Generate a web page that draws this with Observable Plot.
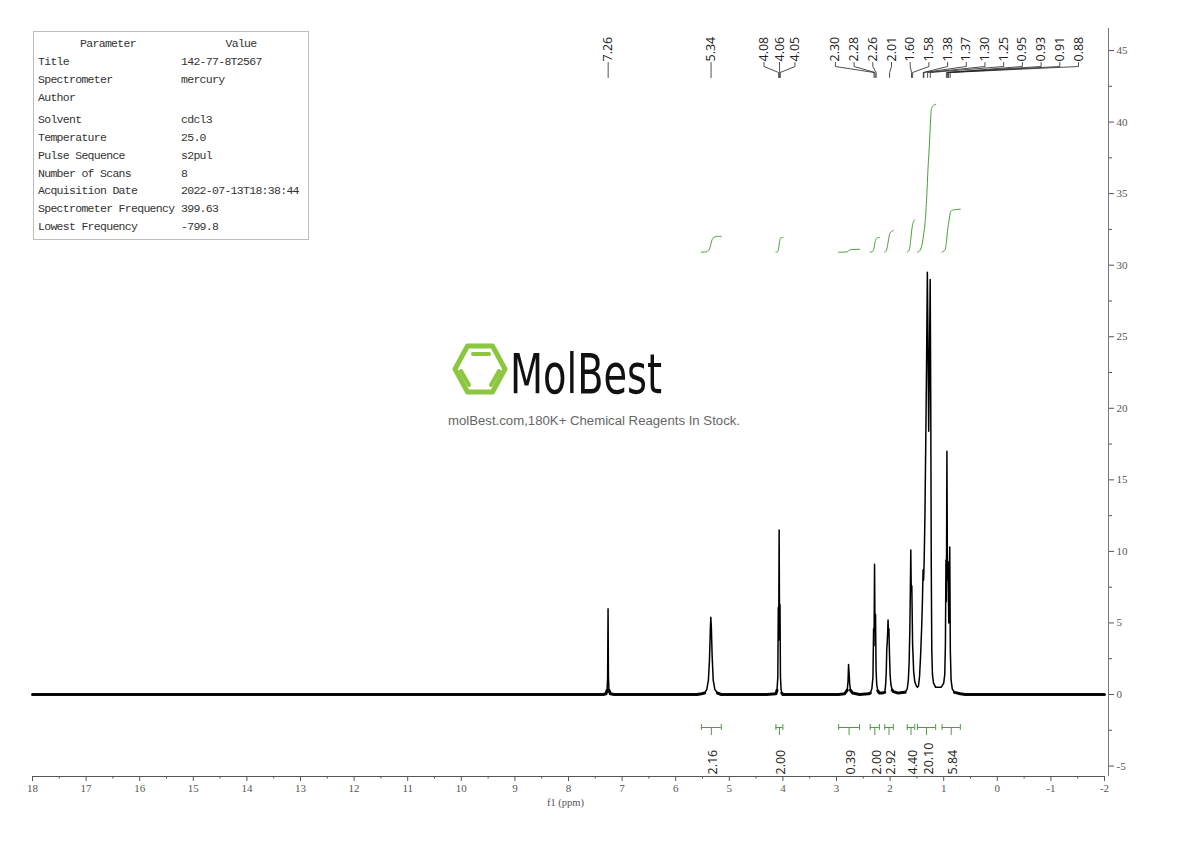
<!DOCTYPE html>
<html><head><meta charset="utf-8">
<script src="https://cdn.jsdelivr.net/npm/d3@7"></script>
<script src="https://cdn.jsdelivr.net/npm/@observablehq/plot@0.6"></script>
<style>
html,body{margin:0;padding:0;background:#fff;}
#wrap{position:relative;width:1190px;height:841px;overflow:hidden;background:#fff;}
#chart{position:absolute;left:0;top:0;}
#params{position:absolute;left:33px;top:31px;width:274px;height:207px;border:1px solid #bdbdbd;background:#fff;font-family:'Liberation Mono',monospace;font-size:11.5px;letter-spacing:-0.7px;color:#333;}
.cell{position:absolute;white-space:pre;line-height:14px;transform:translateY(-50%);}
#wm{position:absolute;left:0;top:0;pointer-events:none;}
</style></head>
<body><div id="wrap"><div id="chart"></div><div id="params"></div>
<svg id="wm" width="1190" height="841">
<g fill="none" stroke="#8cc63f" stroke-linecap="round" stroke-linejoin="round">
<path d="M455,369 L467.5,346 L492.5,346 L505,369 L492.5,392 L467.5,392 Z" stroke-width="5"/>
<path d="M473,354 H489" stroke-width="4"/>
<path d="M461,371 L469,385" stroke-width="4"/>
<path d="M499,371 L491,385" stroke-width="4"/>
</g>
<text x="510" y="393" font-family="'DejaVu Sans Condensed','DejaVu Sans',sans-serif" font-size="55" fill="#111" textLength="152" lengthAdjust="spacingAndGlyphs">MolBest</text>
<text x="594" y="424.5" text-anchor="middle" font-family="'Liberation Sans',Arial,sans-serif" font-size="12.5" fill="#666" textLength="292" lengthAdjust="spacingAndGlyphs">molBest.com,180K+ Chemical Reagents In Stock.</text>
</svg>
</div>
<script>
// ---------- data ----------
const spectrum = [
  [18.0,0.0],[7.35,0.0],[7.30,0.05],[7.28,0.3],[7.27,1.2],[7.262,6.0],[7.255,1.2],[7.245,0.3],[7.22,0.05],[7.15,0.0],
  [5.60,0.0],[5.52,0.05],[5.46,0.1],[5.42,0.35],[5.39,1.0],[5.37,2.4],[5.355,4.4],[5.345,5.4],[5.335,4.7],[5.32,2.7],[5.30,1.0],[5.27,0.35],[5.22,0.1],[5.15,0.0],
  [4.30,0.0],[4.13,0.05],[4.11,0.3],[4.095,1.2],[4.086,6.1],[4.079,3.8],[4.070,11.5],[4.062,4.0],[4.054,6.3],[4.046,1.3],[4.035,0.4],[4.02,0.1],[4.00,0.0],
  [3.20,0.0],[2.96,0.0],[2.85,0.05],[2.80,0.3],[2.785,0.9],[2.775,2.1],[2.765,1.5],[2.755,0.8],[2.74,0.3],[2.70,0.1],[2.57,0.0],
  [2.40,0.05],[2.37,0.1],[2.34,0.4],[2.32,1.2],[2.308,4.6],[2.300,3.4],[2.290,9.1],[2.282,4.4],[2.272,5.6],[2.262,1.8],[2.25,0.7],[2.23,0.25],[2.20,0.1],
  [2.15,0.1],[2.10,0.15],[2.085,0.6],[2.072,1.5],[2.062,3.2],[2.055,3.5],[2.047,4.2],[2.038,5.2],[2.030,4.2],[2.022,4.6],[2.012,2.9],[2.0,1.4],[1.985,0.7],[1.96,0.3],[1.94,0.2],
  [1.85,0.1],[1.72,0.15],[1.68,0.4],[1.66,1.0],[1.645,2.2],[1.632,4.5],[1.622,7.3],[1.614,10.1],[1.605,7.2],[1.595,7.6],[1.58,3.5],[1.56,1.6],[1.54,0.9],[1.51,0.6],
  [1.49,0.5],[1.47,0.6],[1.45,1.3],[1.43,2.8],[1.41,4.8],[1.395,6.8],[1.385,8.7],[1.375,8.0],[1.365,9.2],[1.35,12.5],[1.335,17.5],[1.32,23.0],[1.305,29.5],[1.295,25.5],[1.28,18.4],[1.265,23.5],[1.252,29.0],[1.242,21.0],[1.232,9.0],[1.222,3.0],[1.21,1.4],[1.19,0.8],[1.15,0.5],
  [1.10,0.5],[1.05,0.5],[1.03,0.6],[1.00,0.8],[0.98,1.4],[0.968,3.5],[0.958,9.4],[0.950,6.5],[0.940,17.0],[0.930,8.0],[0.920,9.3],[0.905,5.0],[0.887,10.3],[0.876,3.0],[0.862,1.0],[0.84,0.4],[0.80,0.15],[0.69,0.05],
  [0.60,0.0],[-2.0,0.0]
];
const peakLabels = [7.26,5.34,4.08,4.06,4.05,2.30,2.28,2.26,2.01,1.60,1.58,1.38,1.37,1.30,1.25,0.95,0.93,0.91,0.88];
const integralFrom = [5.52,4.13,2.96,2.37,2.10,1.68,1.49,1.03];
const integralTo   = [5.15,4.00,2.57,2.20,1.94,1.54,1.15,0.69];
const integralValues = [2.16,2.00,0.39,2.00,2.92,4.40,20.10,5.84];
const xTicks = [18,17,16,15,14,13,12,11,10,9,8,7,6,5,4,3,2,1,0,-1,-2];
const yTicks = [45,40,35,30,25,20,15,10,5,0,-5];
const paramNames = ["Title","Spectrometer","Author","Solvent","Temperature","Pulse Sequence","Number of Scans","Acquisition Date","Spectrometer Frequency","Lowest Frequency"];
const paramValues = ["142-77-8T2567","mercury","","cdcl3","25.0","s2pul","8","2022-07-13T18:38:44","399.63","-799.8"];

// ---------- layout ----------
const W = 1190, H = 841, mL = 32, mR = 82, mT = 28, mB = 65;
const xDomain = [18, -2], xRange = [32, 1104];
const yDomain = [-5.73, 46.54];
const xs = d3.scaleLinear(xDomain, xRange);
const ys = d3.scaleLinear(yDomain, [H - mB, mT]);
const green = "#4a9e3c";

// peak label placement (clusters; right-packed when running past the limit)
const Lmax = 1078, gC = 15.5, gR = 18.7;
const d = peakLabels.map(p => xs(p));
const clusters = []; let cur = [0]; let A = [d[0]];
for (let i = 1; i < d.length; i++) {
  const ai = Math.max(d[i], A[i-1] + gC);
  if (d[i] >= A[i-1] + gC) { clusters.push(cur); cur = [i]; } else cur.push(i);
  A.push(ai);
}
clusters.push(cur);
const lx = new Array(d.length);
clusters.forEach(c => {
  const n = c.length;
  const packedEnd = d[c[0]] + (n - 1) * gR;
  if (n > 1 && packedEnd > Lmax) {
    c.forEach((idx, k) => lx[idx] = Lmax - (n - 1 - k) * gR);
  } else {
    const m = d3.mean(c, i => d[i]);
    c.forEach((idx, k) => lx[idx] = m + (k - (n - 1) / 2) * gC);
  }
});
const labelData = peakLabels.map((p, i) => ({ppm: p, lx: xs.invert(lx[i]), text: p.toFixed(2)}));
const yText = ys.invert(61), yA = ys.invert(62), yB = ys.invert(66), yC = ys.invert(72), yD = ys.invert(77);
const connectors = [];
labelData.forEach((l, i) => {
  connectors.push({id: i, x: l.lx, y: yA}, {id: i, x: l.lx, y: yB}, {id: i, x: l.ppm, y: yC}, {id: i, x: l.ppm, y: yD});
});

// integral curves, accumulated from the spectrum points
const integralBase = ys.invert(251.7);
const integralScale = ys.invert(251.7 - 7.36) - ys.invert(251.7);
const integralPts = [];
integralFrom.forEach((a, i) => {
  const b = integralTo[i];
  const pts = spectrum.filter(s => s[0] <= a + 1e-9 && s[0] >= b - 1e-9);
  let acc = 0; const cum = [0];
  for (let j = 1; j < pts.length; j++) { acc += (pts[j-1][1] + pts[j][1]) / 2 * (pts[j-1][0] - pts[j][0]); cum.push(acc); }
  const rise = integralValues[i] * integralScale;
  pts.forEach((p, j) => integralPts.push({id: i, x: p[0], y: integralBase + cum[j] / acc * rise}));
});
const regions = integralFrom.map((a, i) => ({from: a, to: integralTo[i], mid: (a + integralTo[i]) / 2, value: integralValues[i]}));
const yBr = ys.invert(727), yCapT = ys.invert(724), yCapB = ys.invert(730), yStub = ys.invert(735), yIntLab = ys.invert(774);
const caps = regions.flatMap(r => [r.from, r.to]);

// baseline stretches of the spectrum (drawn a little heavier, like the noisy band)
const baselineOnly = spectrum.map(s => s[1] <= 0.3 ? s : [s[0], NaN]);

const chart = Plot.plot({
  width: W, height: H, marginLeft: mL, marginRight: mR, marginTop: mT, marginBottom: mB,
  x: {domain: xDomain, range: xRange},
  y: {domain: yDomain},
  style: {fontFamily: "'Liberation Serif', serif", fontSize: "11px", color: "#555", background: "transparent"},
  marks: [
    // x axis
    Plot.ruleY([yDomain[0]], {x1: xDomain[0], x2: xDomain[1], stroke: "#555"}),
    Plot.axisX({ticks: xTicks, tickSize: 5, tickPadding: 3, tickFormat: v => String(v), label: null}),
    Plot.axisX({ticks: xTicks.slice(1).map(t => t + 0.5), tickSize: 2.5, tickFormat: () => "", label: null}),
    Plot.text(["f1 (ppm)"], {frameAnchor: "bottom", dx: -5, dy: 26, lineAnchor: "middle", fontSize: 10.5, fill: "#555"}),
    // y axis (right)
    Plot.ruleX([xs.invert(1108)], {stroke: "#777"}),
    Plot.axisY({anchor: "right", ticks: yTicks, tickSize: 5, tickPadding: 3, tickFormat: v => String(v), label: null}),
    Plot.axisY({anchor: "right", ticks: yTicks.slice(1).map(t => t + 2.5), tickSize: 3, tickFormat: () => "", label: null}),
    // spectrum
    Plot.line(baselineOnly, {x: s => s[0], y: s => s[1], stroke: "#111", strokeWidth: 3}),
    Plot.line(spectrum, {x: s => s[0], y: s => s[1], stroke: "#000", strokeWidth: 1.5}),
    // integrals
    Plot.line(integralPts, {x: "x", y: "y", z: "id", stroke: green, strokeWidth: 1, curve: "monotone-x"}),
    Plot.ruleY(regions, {y: yBr, x1: "from", x2: "to", stroke: green, strokeWidth: 1}),
    Plot.ruleX(caps, {x: c => c, y1: yCapT, y2: yCapB, stroke: green, strokeWidth: 1}),
    Plot.ruleX(regions, {x: "mid", y1: yBr, y2: yStub, stroke: green, strokeWidth: 1}),
    Plot.text(regions, {x: "mid", y: yIntLab, text: r => r.value.toFixed(2), rotate: -90, textAnchor: "start", lineAnchor: "middle", dx: 2, fontFamily: "'Open Sans', sans-serif", fontSize: 12.5, fill: "#222"}),
    // peak labels
    Plot.line(connectors, {x: "x", y: "y", z: "id", stroke: "#222", strokeWidth: 0.8}),
    Plot.text(labelData, {x: "lx", y: yText, text: "text", rotate: -90, textAnchor: "start", lineAnchor: "middle", fontFamily: "'Open Sans', sans-serif", fontSize: 12.5, fill: "#222"})
  ]
});
document.getElementById("chart").appendChild(chart);

// parameter table
const box = document.getElementById("params");
function cell(txt, left, top, width, align) {
  const e = document.createElement("div");
  e.className = "cell"; e.textContent = txt;
  e.style.left = left + "px"; e.style.top = top + "px";
  if (width) { e.style.width = width + "px"; e.style.textAlign = align; }
  box.appendChild(e);
}
cell("Parameter", 34, 12, 80, "center");
cell("Value", 167, 12, 80, "center");
paramNames.forEach((n, i) => {
  const top = 30 + i * 18 + (i >= 3 ? 4 : 0) - (i >= 7 ? 1 : 0);
  cell(n, 4, top);
  cell(paramValues[i], 147, top);
});
</script></body></html>
